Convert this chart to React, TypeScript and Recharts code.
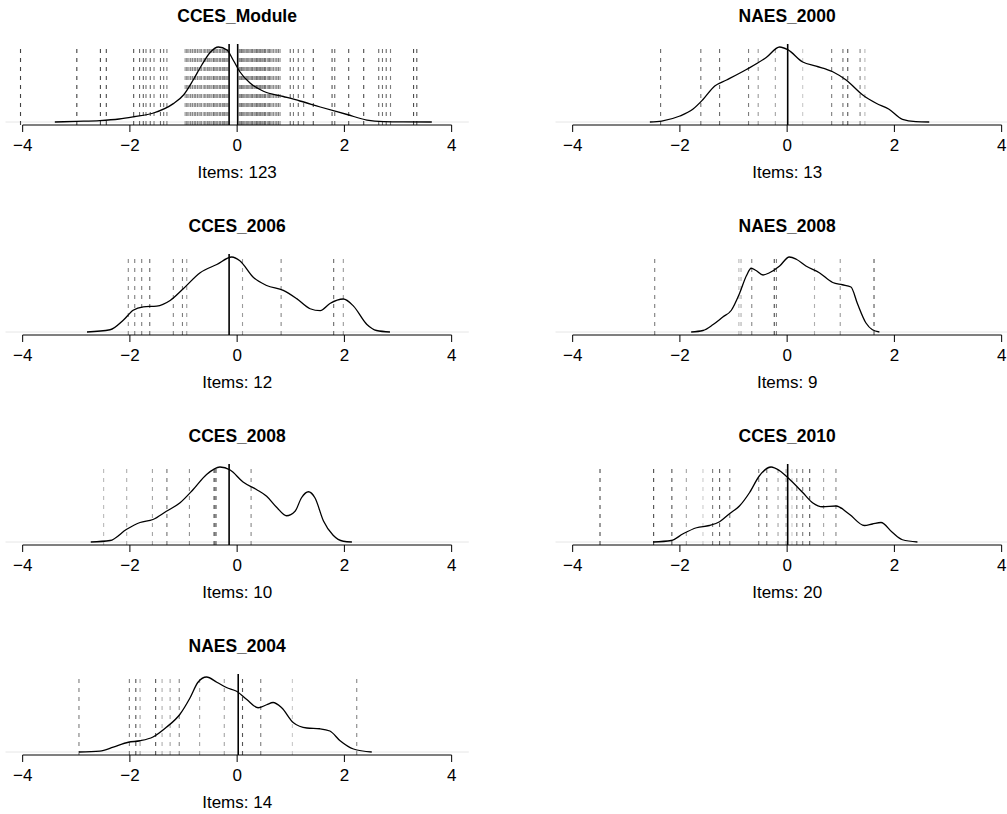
import React from 'react'
import { ComposedChart, Line, XAxis, YAxis, ReferenceLine } from 'recharts'

// density curves: x = latent position, y = density relative to each panel's peak
const ccesModuleX = [-3.4, -3.0, -2.56, -2.2, -1.93, -1.56, -1.19, -1.0, -0.82, -0.66, -0.5, -0.35, -0.19, -0.07, 0.05, 0.24, 0.49, 0.86, 1.17, 1.55, 2.05, 2.42, 2.73, 3.1, 3.63]
const ccesModuleY = [0, 0.008, 0.018, 0.04, 0.07, 0.12, 0.245, 0.36, 0.56, 0.76, 0.93, 1.0, 0.96, 0.82, 0.67, 0.52, 0.41, 0.34, 0.28, 0.2, 0.1, 0.026, 0.005, 0.001, 0]

const naes2000X = [-2.56, -2.34, -2.0, -1.76, -1.57, -1.35, -1.13, -0.76, -0.39, -0.14, 0.01, 0.29, 0.54, 0.85, 1.1, 1.41, 1.66, 1.9, 2.15, 2.4, 2.65]
const naes2000Y = [0, 0.013, 0.08, 0.17, 0.3, 0.48, 0.56, 0.7, 0.86, 1.0, 0.965, 0.8, 0.745, 0.67, 0.56, 0.36, 0.25, 0.17, 0.035, 0.005, 0]

const cces2006X = [-2.8, -2.37, -2.12, -1.94, -1.75, -1.5, -1.25, -1.0, -0.69, -0.38, -0.1, 0.05, 0.3, 0.55, 0.86, 1.11, 1.36, 1.55, 1.73, 1.98, 2.17, 2.42, 2.6, 2.85]
const cces2006Y = [0, 0.03, 0.16, 0.29, 0.336, 0.345, 0.42, 0.58, 0.79, 0.9, 1.0, 0.95, 0.73, 0.62, 0.555, 0.445, 0.31, 0.285, 0.38, 0.44, 0.345, 0.1, 0.02, 0]

const naes2008X = [-1.79, -1.57, -1.38, -1.2, -1.04, -0.89, -0.76, -0.67, -0.58, -0.45, -0.33, -0.14, 0.04, 0.17, 0.35, 0.6, 0.85, 1.03, 1.19, 1.31, 1.47, 1.59, 1.72]
const naes2008Y = [0, 0.02, 0.1, 0.2, 0.29, 0.51, 0.75, 0.85, 0.82, 0.76, 0.79, 0.88, 1.0, 0.97, 0.88, 0.79, 0.66, 0.63, 0.6, 0.38, 0.12, 0.03, 0]

const cces2008X = [-2.73, -2.37, -2.06, -1.81, -1.57, -1.32, -1.07, -0.82, -0.57, -0.32, -0.13, 0.11, 0.36, 0.55, 0.74, 0.92, 1.08, 1.2, 1.33, 1.45, 1.61, 1.79, 1.98, 2.14]
const cces2008Y = [0, 0.02, 0.17, 0.26, 0.3, 0.41, 0.52, 0.7, 0.9, 1.0, 0.96, 0.8, 0.7, 0.61, 0.46, 0.35, 0.41, 0.59, 0.67, 0.59, 0.28, 0.09, 0.01, 0]

const cces2010X = [-2.5, -2.16, -1.94, -1.69, -1.45, -1.26, -1.07, -0.89, -0.7, -0.52, -0.3, -0.14, 0.04, 0.29, 0.48, 0.66, 0.91, 1.16, 1.44, 1.59, 1.75, 1.96, 2.15, 2.43]
const cces2010Y = [0, 0.02, 0.11, 0.19, 0.22, 0.27, 0.38, 0.48, 0.66, 0.88, 1.0, 0.95, 0.84, 0.66, 0.52, 0.47, 0.48, 0.37, 0.22, 0.24, 0.26, 0.13, 0.03, 0]

const naes2004X = [-2.95, -2.56, -2.31, -2.03, -1.81, -1.57, -1.32, -1.07, -0.88, -0.73, -0.57, -0.38, -0.2, -0.01, 0.18, 0.39, 0.55, 0.67, 0.83, 1.05, 1.3, 1.54, 1.73, 1.92, 2.17, 2.51]
const naes2004Y = [0, 0.013, 0.065, 0.13, 0.15, 0.2, 0.33, 0.5, 0.72, 0.93, 1.0, 0.93, 0.86, 0.81, 0.7, 0.59, 0.63, 0.66, 0.59, 0.39, 0.32, 0.31, 0.28, 0.15, 0.04, 0]

// item positions (dashed lines) and their weights (drawn as gray level)
const ccesModuleItems = [
  -4.04, -2.99, -2.55, -2.44, -1.93, -1.82, -1.75, -1.7, -1.62, -1.55, -1.43, -1.37, -1.31,
  -0.97, -0.94, -0.93, -0.9, -0.87, -0.86, -0.83, -0.8, -0.78, -0.77, -0.74, -0.71, -0.69, -0.67, -0.66,
  -0.62, -0.6, -0.58, -0.55, -0.54, -0.51, -0.49, -0.47, -0.44, -0.43, -0.4, -0.38, -0.36, -0.33,
  -0.31, -0.3, -0.27, -0.25, -0.23, -0.21, -0.19, -0.17,
  0.04, 0.06, 0.08, 0.1, 0.11, 0.13, 0.15, 0.17, 0.19, 0.2, 0.22, 0.24, 0.26, 0.27, 0.29, 0.31,
  0.33, 0.35, 0.36, 0.38, 0.4, 0.42, 0.44, 0.46, 0.47, 0.49, 0.51, 0.53, 0.56, 0.58, 0.6, 0.62,
  0.65, 0.68, 0.71, 0.74, 0.77, 0.8,
  0.99, 1.05, 1.14, 1.24, 1.42, 1.77, 1.82, 2.08, 2.36, 2.64, 2.71, 2.78, 2.86, 3.29, 3.35,
]
const ccesModuleWeights = [
  0.8, 0.8, 0.75, 0.75, 0.7, 0.6, 0.65, 0.55, 0.6, 0.5, 0.6, 0.55, 0.5,
  0.4, 0.5, 0.35, 0.45, 0.55, 0.3, 0.5, 0.4, 0.6, 0.35, 0.45, 0.5, 0.3, 0.55, 0.4,
  0.45, 0.6, 0.35, 0.5, 0.4, 0.55, 0.3, 0.45, 0.5, 0.6, 0.35, 0.45, 0.5, 0.4,
  0.55, 0.3, 0.5, 0.45, 0.6, 0.35, 0.5, 0.45,
  0.5, 0.4, 0.55, 0.35, 0.45, 0.6, 0.3, 0.5, 0.45, 0.4, 0.55, 0.35, 0.5, 0.45, 0.6, 0.3,
  0.5, 0.4, 0.55, 0.45, 0.35, 0.5, 0.6, 0.4, 0.45, 0.3, 0.55, 0.5, 0.4, 0.45, 0.6, 0.35,
  0.5, 0.45, 0.4, 0.55, 0.5, 0.45,
  0.6, 0.5, 0.6, 0.5, 0.7, 0.7, 0.6, 0.7, 0.75, 0.6, 0.55, 0.6, 0.5, 0.75, 0.7,
]

const naes2000Items = [-2.36, -1.61, -1.26, -0.72, -0.54, -0.22, 0.29, 0.83, 1.04, 1.13, 1.36, 1.45]
const naes2000Weights = [0.6, 0.55, 0.6, 0.5, 0.35, 0.3, 0.12, 0.5, 0.55, 0.7, 0.45, 0.2]

const cces2006Items = [-2.03, -1.91, -1.78, -1.63, -1.19, -1.02, -0.94, 0.1, 0.82, 1.8, 1.98]
const cces2006Weights = [0.45, 0.5, 0.5, 0.6, 0.45, 0.5, 0.35, 0.35, 0.45, 0.6, 0.35]

const naes2008Items = [-2.47, -0.9, -0.86, -0.66, -0.24, -0.2, 0.51, 0.99, 1.62]
const naes2008Weights = [0.5, 0.2, 0.25, 0.45, 0.75, 0.5, 0.25, 0.35, 0.7]

const cces2008Items = [-2.49, -2.06, -1.58, -1.31, -0.89, -0.43, -0.41, -0.39, 0.26]
const cces2008Weights = [0.2, 0.25, 0.3, 0.55, 0.4, 0.8, 0.65, 0.45, 0.45]

const cces2010Items = [-3.49, -2.49, -2.15, -1.88, -1.57, -1.39, -1.26, -1.07, -0.53, -0.38, -0.17, -0.02, 0.09, 0.18, 0.29, 0.42, 0.68, 0.91]
const cces2010Weights = [0.75, 0.75, 0.7, 0.3, 0.1, 0.5, 0.65, 0.5, 0.5, 0.55, 0.3, 0.3, 0.1, 0.5, 0.5, 0.7, 0.3, 0.45]

const naes2004Items = [-2.95, -2.01, -1.89, -1.81, -1.52, -1.4, -1.25, -1.08, -0.7, -0.24, 0.1, 0.44, 1.03, 2.23]
const naes2004Weights = [0.5, 0.5, 0.7, 0.3, 0.7, 0.25, 0.3, 0.45, 0.3, 0.3, 0.7, 0.5, 0.12, 0.45]

// solid reference lines (means)
const ccesModuleMeans = [-0.15, 0.01]
const naes2000Means = [0.01]
const cces2006Means = [-0.15]
const naes2008Means: number[] = []
const cces2008Means = [-0.15]
const cces2010Means = [0.01]
const naes2004Means = [0.02]

const xTicks = [-4, -2, 0, 2, 4]

const panels = [
  { title: 'CCES_Module', n: 123, x: ccesModuleX, y: ccesModuleY, items: ccesModuleItems, weights: ccesModuleWeights, means: ccesModuleMeans },
  { title: 'NAES_2000', n: 13, x: naes2000X, y: naes2000Y, items: naes2000Items, weights: naes2000Weights, means: naes2000Means },
  { title: 'CCES_2006', n: 12, x: cces2006X, y: cces2006Y, items: cces2006Items, weights: cces2006Weights, means: cces2006Means },
  { title: 'NAES_2008', n: 9, x: naes2008X, y: naes2008Y, items: naes2008Items, weights: naes2008Weights, means: naes2008Means },
  { title: 'CCES_2008', n: 10, x: cces2008X, y: cces2008Y, items: cces2008Items, weights: cces2008Weights, means: cces2008Means },
  { title: 'CCES_2010', n: 20, x: cces2010X, y: cces2010Y, items: cces2010Items, weights: cces2010Weights, means: cces2010Means },
  { title: 'NAES_2004', n: 14, x: naes2004X, y: naes2004Y, items: naes2004Items, weights: naes2004Weights, means: naes2004Means },
]

const FONT = '"Liberation Sans", Arial, Helvetica, sans-serif'
const W = 475
const H = 185
const PLOT_W = 463.3

const gray = (w: number) => {
  const c = Math.max(0, Math.round(225 - 200 * w))
  const h = c.toString(16).padStart(2, '0')
  return `#${h}${h}${h}`
}

const fmt = (v: number) => (v < 0 ? `\u2212${-v}` : `${v}`)

type PanelData = (typeof panels)[number]

const Panel = ({ p, left, top }: { p: PanelData; left: number; top: number }) => {
  const data = p.x.map((x, i) => ({ x, y: p.y[i] }))
  const peak = Math.max(...p.y)
  const yMin = -0.04 * peak
  const yMax = 1.04 * peak
  return (
    <div style={{ position: 'absolute', left, top, width: W, height: H + 25 }}>
      <div
        style={{
          position: 'absolute',
          left: 0,
          top: 6,
          width: 5.5 * 2 + PLOT_W,
          textAlign: 'center',
          fontWeight: 'bold',
          fontSize: 17.5,
          lineHeight: '20px',
          color: '#000',
        }}
      >
        {p.title}
      </div>
      <ComposedChart
        width={W}
        height={H}
        data={data}
        margin={{ top: 44, right: W - 5.5 - PLOT_W, bottom: 7, left: 5.5 }}
      >
        <XAxis
          type="number"
          dataKey="x"
          domain={[-4.32, 4.32]}
          ticks={xTicks}
          interval={0}
          allowDataOverflow
          axisLine={false}
          stroke="#000"
          tickLine={{ stroke: '#000' }}
          tickSize={7}
          tickMargin={7}
          tick={{ fill: '#000', fontSize: 17 }}
          tickFormatter={fmt}
          height={53}
          label={{ value: `Items: ${p.n}`, position: 'insideBottom', offset: 0, fill: '#000', fontSize: 17 }}
        />
        <YAxis type="number" hide domain={[yMin, yMax]} allowDataOverflow />
        <ReferenceLine y={0} stroke="#e6e6e6" strokeWidth={1} />
        {p.items.map((v, i) => (
          <ReferenceLine key={`it${i}`} x={v} stroke={gray(p.weights[i])} strokeDasharray="4 5" strokeWidth={1.1} />
        ))}
        {p.means.map((m, i) => (
          <ReferenceLine key={`m${i}`} x={m} stroke="#000" strokeWidth={1.6} />
        ))}
        <ReferenceLine
          segment={[
            { x: -4, y: yMin },
            { x: 4, y: yMin },
          ]}
          stroke="#000"
          strokeWidth={1}
        />
        <Line
          type="monotone"
          dataKey="y"
          stroke="#000"
          strokeWidth={1.3}
          dot={false}
          activeDot={false}
          isAnimationActive={false}
        />
      </ComposedChart>
    </div>
  )
}

export default function App() {
  return (
    <div
      style={{
        position: 'absolute',
        left: 0,
        top: 0,
        width: 1007,
        height: 814,
        overflow: 'hidden',
        background: '#fff',
        fontFamily: FONT,
      }}
    >
      {panels.map((p, i) => (
        <Panel key={p.title} p={p} left={i % 2 === 0 ? 0 : 550} top={Math.floor(i / 2) * 210} />
      ))}
    </div>
  )
}
